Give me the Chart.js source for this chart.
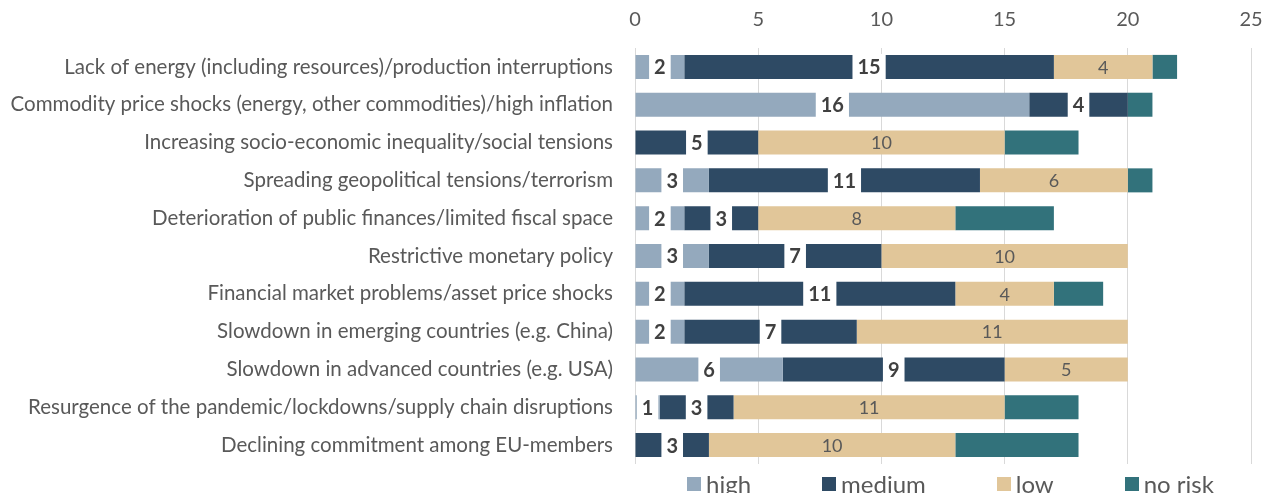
<!DOCTYPE html>
<html>
<head>
<meta charset="utf-8">
<script src="https://cdn.jsdelivr.net/npm/chart.js@4.4.0/dist/chart.umd.min.js"></script>
<style>
  html, body { margin: 0; padding: 0; background: #fff; overflow: hidden; }
  #wrap { position: relative; width: 1268px; height: 493px; overflow: hidden; }
  #legend {
    position: absolute; top: 469px; left: 687px;
    display: flex; font: 24px Lato, sans-serif; color: #595959; white-space: nowrap;
  }
  #legend .item { display: flex; align-items: center; margin-right: 71px; }
  #legend .box { width: 14px; height: 14px; margin-right: 5px; }
</style>
</head>
<body>
<div id="wrap">
  <canvas id="myChart"></canvas>
  <div id="legend"></div>
</div>
<script>
const categories = [
  'Lack of energy (including resources)/production interruptions',
  'Commodity price shocks (energy, other commodities)/high inflation',
  'Increasing socio-economic inequality/social tensions',
  'Spreading geopolitical tensions/terrorism',
  'Deterioration of public finances/limited fiscal space',
  'Restrictive monetary policy',
  'Financial market problems/asset price shocks',
  'Slowdown in emerging countries (e.g. China)',
  'Slowdown in advanced countries (e.g. USA)',
  'Resurgence of the pandemic/lockdowns/supply chain disruptions',
  'Declining commitment among EU-members'
];
const high   = [2, 16, 0, 3, 2, 3, 2, 2, 6, 1, 0];
const medium = [15, 4, 5, 11, 3, 7, 11, 7, 9, 3, 3];
const low    = [4, 0, 10, 6, 8, 10, 4, 11, 5, 11, 10];
const noRisk = [1, 1, 3, 1, 4, 0, 2, 0, 0, 3, 5];
const xTicks = [0, 5, 10, 15, 20, 25];

const seriesNames = ['high', 'medium', 'low', 'no risk'];
const seriesColors = ['#94a9bd', '#2e4a64', '#e1c699', '#32727b'];
const seriesData = [high, medium, low, noRisk];

const FONT = 'Lato, sans-serif';

// value labels: bold on a white patch for high/medium, plain for low
const barLabels = {
  id: 'barLabels',
  afterDatasetsDraw(chart) {
    const ctx = chart.ctx;
    chart.data.datasets.forEach((ds, i) => {
      if (i > 2) return;
      const meta = chart.getDatasetMeta(i);
      meta.data.forEach((bar, j) => {
        const v = ds.data[j];
        if (!v) return;
        const x = (bar.x + bar.base) / 2;
        const y = bar.y;
        ctx.save();
        ctx.textAlign = 'center';
        ctx.textBaseline = 'middle';
        if (i < 2) {
          ctx.font = 'bold 20px ' + FONT;
          const w = ctx.measureText(String(v)).width + 10;
          ctx.fillStyle = '#fff';
          ctx.fillRect(x - w / 2, y - bar.height / 2 - 1, w, bar.height + 2);
          ctx.fillStyle = '#404040';
        } else {
          ctx.font = '18px ' + FONT;
          ctx.fillStyle = '#595959';
        }
        ctx.fillText(String(v), x, y + 1);
        ctx.restore();
      });
    });
  }
};

const datasets = seriesNames.map((name, i) => ({
  label: name,
  data: seriesData[i],
  backgroundColor: seriesColors[i],
  borderWidth: 0,
  barPercentage: 0.635,
  categoryPercentage: 1
}));

new Chart(document.getElementById('myChart'), {
  type: 'bar',
  data: { labels: categories, datasets: datasets },
  options: {
    indexAxis: 'y',
    responsive: true,
    maintainAspectRatio: false,
    animation: false,
    layout: { padding: { top: 8, right: 17, bottom: 29, left: 0 } },
    plugins: {
      legend: { display: false },
      tooltip: { enabled: false }
    },
    scales: {
      x: {
        position: 'top',
        stacked: true,
        min: 0,
        max: 25,
        afterBuildTicks: (scale) => { scale.ticks = xTicks.map(v => ({ value: v })); },
        ticks: { color: '#595959', font: { family: FONT, size: 20 }, padding: 0 },
        // the gap above the plot comes from invisible tick marks
        grid: { color: '#d9d9d9', drawTicks: true, tickLength: 16, tickColor: 'rgba(0,0,0,0)' },
        border: { display: false }
      },
      y: {
        stacked: true,
        afterFit: (scale) => { scale.width = 635; },
        ticks: { color: '#595959', font: { family: FONT, size: 20.5 }, padding: 0 },
        grid: { display: true, drawOnChartArea: false, drawTicks: true, tickLength: 22, tickColor: 'rgba(0,0,0,0)' },
        border: { display: false }
      }
    }
  },
  plugins: [barLabels]
});

// legend under the plot
const legend = document.getElementById('legend');
seriesNames.forEach((name, i) => {
  const item = document.createElement('div');
  item.className = 'item';
  const box = document.createElement('span');
  box.className = 'box';
  box.style.background = seriesColors[i];
  const text = document.createElement('span');
  text.textContent = name;
  item.appendChild(box);
  item.appendChild(text);
  legend.appendChild(item);
});
</script>
</body>
</html>
